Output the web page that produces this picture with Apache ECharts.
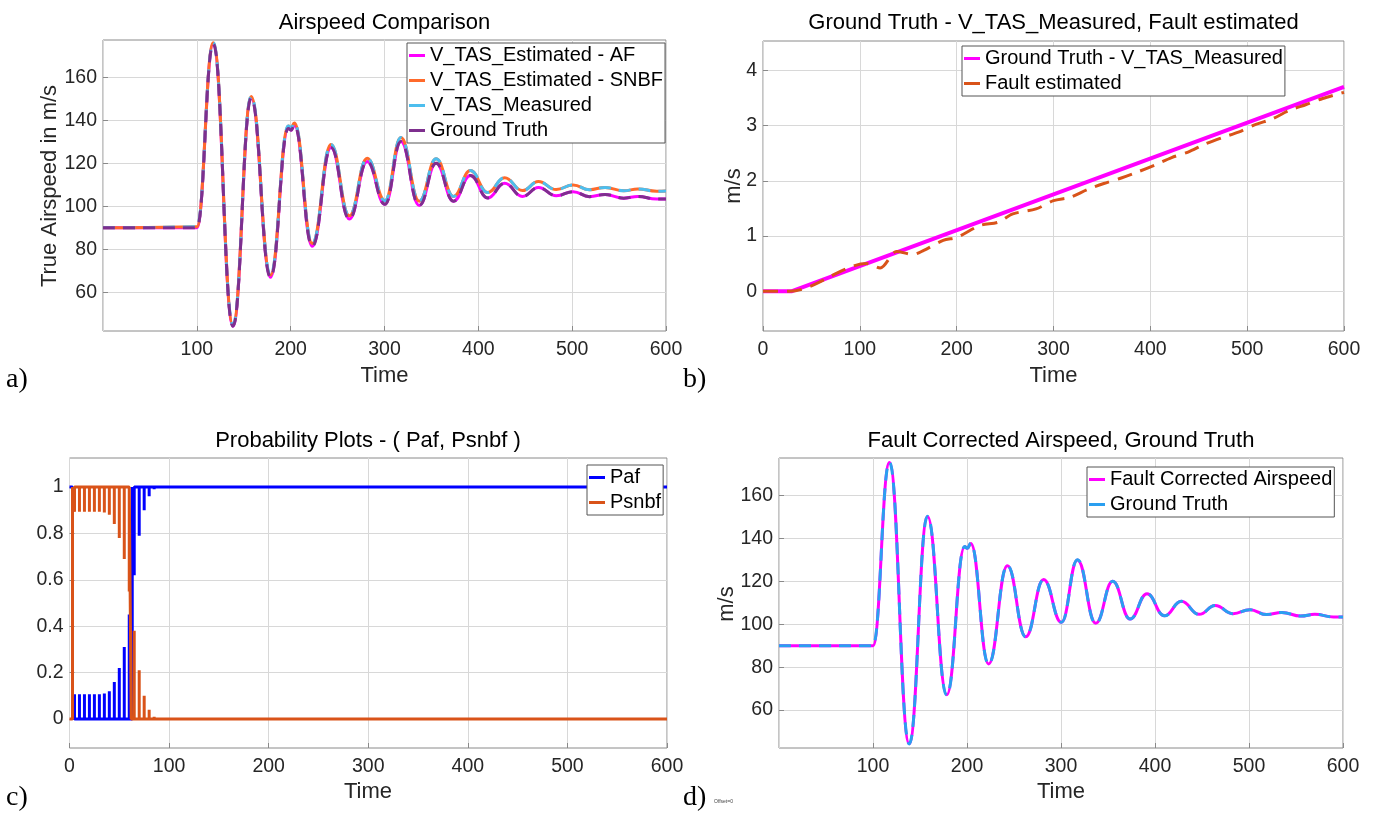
<!DOCTYPE html>
<html><head><meta charset="utf-8">
<script src="https://cdn.jsdelivr.net/npm/echarts@6/dist/echarts.min.js"></script>
<style>html,body{margin:0;padding:0;background:#fff}#c{width:1377px;height:813px}</style>
</head><body><div id="c"></div>
<script>
// ================= DATA =================
// Panel a / d : ground truth airspeed (extremes of the oscillation)
const gtTime  = [0, 50, 100, 117.5, 138.5, 158, 178.5, 197.5, 200.5, 204, 223, 243, 262.5, 281.5, 300.5, 317.5, 337, 355, 373.5, 391.5, 410, 428, 447, 464, 483, 501, 518.5, 535, 555, 570, 590, 600];
const gtValue = [90, 90, 90, 175.5, 44.2, 150.3, 67, 136.2, 135.4, 137.7, 81.4, 127.4, 94.1, 120.8, 100.9, 130.1, 100.4, 120, 102.4, 114.3, 103.9, 110.7, 104.6, 108.7, 104.9, 106.8, 104.5, 105.5, 103.8, 104.6, 103.4, 103.4];
const afValue = [90, 90, 90, 175.5, 44.2, 150.3, 67, 136.2, 135.4, 137.7, 81.4, 127.4, 94.1, 120.8, 100.9, 130.1, 100.4, 120, 102.4, 114.3, 103.9, 110.7, 104.6, 108.7, 104.9, 106.8, 104.5, 105.5, 103.8, 104.6, 103.4, 103.4];
// measured airspeed (ground truth + drifting fault) and SNBF estimate
const measTime  = [0, 30, 100, 117.5, 138.5, 158, 178.5, 197.5, 200.5, 204, 223, 243, 262.5, 281.5, 300.5, 317.5, 337, 355, 373.5, 391.5, 410, 428, 447, 464, 483, 501, 518.5, 535, 555, 570, 590, 600];
const measValue = [90, 90, 90.45, 176.1, 44.9, 151.1, 68.0, 137.3, 136.5, 138.8, 82.7, 128.8, 95.6, 122.4, 102.6, 132.0, 102.4, 122.1, 104.6, 116.6, 106.4, 113.3, 107.3, 111.5, 107.8, 109.9, 107.7, 108.8, 107.2, 108.1, 107.0, 107.1];
const snbfValue = [90, 90, 90.45, 176.1, 44.9, 151.1, 68.0, 137.3, 136.5, 138.8, 82.7, 128.8, 95.6, 122.4, 102.6, 132.0, 102.4, 122.1, 104.6, 116.6, 106.4, 113.3, 107.3, 111.5, 107.8, 109.9, 107.7, 108.8, 107.2, 108.1, 107.0, 107.1];
// Panel d : fault corrected airspeed
const corrValue = [90, 90, 90, 175.4, 44.3, 150.2, 67.1, 136.1, 135.4, 137.6, 81.5, 127.3, 94.2, 120.8, 100.9, 130.0, 100.5, 120, 102.4, 114.2, 103.9, 110.7, 104.6, 108.7, 104.9, 106.8, 104.5, 105.5, 103.8, 104.6, 103.4, 103.4];

// Panel b : fault
const faultTrueTime  = [0, 30, 600];
const faultTrueValue = [0, 0, 3.7];
const faultEstTime  = [0, 28, 107, 121, 138, 155, 166, 186, 201, 224, 243, 258, 282, 300, 317, 335, 352, 370, 387, 404, 422, 439, 456, 474, 491, 509, 526, 543, 561, 578, 600];
const faultEstValue = [0, 0, 0.50, 0.42, 0.72, 0.665, 0.74, 0.92, 0.98, 1.19, 1.25, 1.40, 1.49, 1.64, 1.70, 1.84, 1.95, 2.05, 2.16, 2.28, 2.42, 2.52, 2.66, 2.78, 2.88, 3.02, 3.12, 3.27, 3.38, 3.49, 3.60];

// Panel c : model probabilities
const pafSwitch   = [3, 63];     // Paf: 1 -> 0 at first, 0 -> 1 at second
const psnbfSwitch = [3, 62];     // Psnbf: 0 -> 1 at first, 1 -> 0 at second
const lowSpikeTime  = [5, 10, 15, 20, 25, 30, 35, 40, 45, 50, 55, 60];
const pafLow        = [0.107, 0.107, 0.107, 0.107, 0.107, 0.107, 0.11, 0.12, 0.16, 0.22, 0.31, 0.45];
const psnbfLow      = [0.893, 0.893, 0.893, 0.893, 0.893, 0.893, 0.89, 0.88, 0.84, 0.78, 0.69, 0.55];
const highSpikeTime = [65, 70, 75, 80, 85];
const pafHigh       = [0.62, 0.79, 0.90, 0.96, 0.99];
const psnbfHigh     = [0.38, 0.21, 0.10, 0.04, 0.01];

const xTicks   = [0, 100, 200, 300, 400, 500, 600];
const yTicksAD = [60, 80, 100, 120, 140, 160];
const yTicksB  = [0, 1, 2, 3, 4];
const yTicksC  = [0, 0.2, 0.4, 0.6, 0.8, 1];

// ================= BUILD =================
const zip = (t, v) => t.map((x, i) => [x, v[i]]);
function probSeries(startVal, sw, lowT, lowV, highT, highV) {
  const other = 1 - startVal;
  const d = [[0, startVal], [sw[0], startVal], [sw[0], other]];
  lowT.forEach((t, i) => { d.push([t, other], [t, lowV[i]], [t, other]); });
  d.push([sw[1], other], [sw[1], startVal]);
  highT.forEach((t, i) => { d.push([t, startVal], [t, highV[i]], [t, startVal]); });
  d.push([600, startVal]);
  return d;
}

const FONT = "'Liberation Sans', Arial, Helvetica, sans-serif";
const TXT = '#262626';
const grids = [
  { left: 103, top: 40, width: 563, height: 291 },
  { left: 763, top: 41, width: 581, height: 290 },
  { left: 69.5, top: 458, width: 597.5, height: 290 },
  { left: 779, top: 458, width: 564, height: 290 }
].map(g => Object.assign({ show: true, borderColor: '#8a8a8a', borderWidth: 1, backgroundColor: '#fff' }, g));

function xAxis(i, showZero) {
  return {
    type: 'value', gridIndex: i, min: 0, max: 600, interval: 100,
    axisLine: { show: false, onZero: false },
    axisTick: { show: true, inside: true, length: 5, lineStyle: { color: '#8a8a8a' } },
    axisLabel: { showMinLabel: showZero, showMaxLabel: true, fontSize: 19.5, fontFamily: FONT, color: TXT, margin: 9 },
    splitLine: { show: true, lineStyle: { color: '#d8d8d8', width: 1 } }
  };
}
function yAxis(i, min, max, ticks, fmt) {
  return {
    type: 'value', gridIndex: i, min: min, max: max,
    axisLine: { show: false, onZero: false },
    axisTick: { show: true, inside: true, length: 5, customValues: ticks, lineStyle: { color: '#8a8a8a' } },
    axisLabel: { customValues: ticks, fontSize: 19.5, fontFamily: FONT, color: TXT, margin: 6, formatter: fmt },
    splitLine: { show: true, lineStyle: { color: '#d8d8d8', width: 1 } }
  };
}

function line(name, xi, data, color, width, dash, extra) {
  return Object.assign({
    name: name, type: 'line', xAxisIndex: xi, yAxisIndex: xi, data: data,
    showSymbol: false, symbol: 'none', animation: false, silent: true,
    lineStyle: { color: color, width: width, type: dash || 'solid', cap: 'butt', join: 'bevel' },
    itemStyle: { color: color }
  }, extra || {});
}
const SM = { smooth: 0.45, smoothMonotone: 'x' };

function legend(names, left, top) {
  return {
    data: names, left: left, top: top, orient: 'vertical', selectedMode: false,
    icon: 'rect', itemWidth: 16, itemHeight: 3, itemGap: 0,
    padding: [0, 2, 0, 2], backgroundColor: '#fff', borderColor: '#555', borderWidth: 1, borderRadius: 0,
    textStyle: { fontSize: 20, fontFamily: FONT, color: '#000', lineHeight: 25, padding: [0, 0, 0, 0] }
  };
}

function txt(x, y, text, size, opts) {
  return Object.assign({
    type: 'text', x: x, y: y, silent: true,
    style: { text: text, fontSize: size, fontFamily: FONT, fill: '#000', align: 'center', verticalAlign: 'middle' }
  }, opts || {});
}

const option = {
  backgroundColor: '#fff',
  animation: false,
  grid: grids,
  xAxis: [xAxis(0, false), xAxis(1, true), xAxis(2, true), xAxis(3, false)],
  yAxis: [
    yAxis(0, 42.0, 177.35, yTicksAD),
    yAxis(1, -0.72, 4.53, yTicksB),
    yAxis(2, -0.125, 1.125, yTicksC, v => (v === 0 || v === 1) ? String(v) : v.toFixed(1)),
    yAxis(3, 42.3, 177.5, yTicksAD)
  ],
  legend: [
    legend(['V_TAS_Estimated - AF', 'V_TAS_Estimated - SNBF', 'V_TAS_Measured', 'Ground Truth'], 407, 43),
    legend(['Ground Truth - V_TAS_Measured', 'Fault estimated'], 962, 46),
    legend(['Paf', 'Psnbf'], 587, 465),
    legend(['Fault Corrected Airspeed', 'Ground Truth '], 1087, 467)
  ],
  series: [
    line('V_TAS_Estimated - AF', 0, zip(gtTime, afValue), '#ff00ff', 3, null, SM),
    line('V_TAS_Estimated - SNBF', 0, zip(measTime, snbfValue), '#ff6a2b', 3, null, SM),
    line('V_TAS_Measured', 0, zip(measTime, measValue), '#4dbeee', 3, [12, 8], SM),
    line('Ground Truth', 0, zip(gtTime, gtValue), '#7e2f8e', 3, [12, 8], SM),

    line('Ground Truth - V_TAS_Measured', 1, zip(faultTrueTime, faultTrueValue), '#ff00ff', 4),
    line('Fault estimated', 1, zip(faultEstTime, faultEstValue), '#d95319', 3, [15, 9], { smooth: 0.3 }),

    line('Paf', 2, probSeries(1, pafSwitch, lowSpikeTime, pafLow, highSpikeTime, pafHigh), '#0000ff', 3),
    line('Psnbf', 2, probSeries(0, psnbfSwitch, lowSpikeTime, psnbfLow, highSpikeTime, psnbfHigh), '#d95319', 3),

    line('Fault Corrected Airspeed', 3, zip(gtTime, corrValue), '#ff00ff', 3, null, SM),
    line('Ground Truth ', 3, zip(gtTime, gtValue), '#2a9ff0', 3, [12, 8], SM)
  ],
  graphic: [
    txt(384.5, 23, 'Airspeed Comparison', 22),
    txt(1053.5, 23, 'Ground Truth - V_TAS_Measured, Fault estimated', 22),
    txt(368, 441, 'Probability Plots - ( Paf, Psnbf )', 22),
    txt(1061, 441, 'Fault Corrected Airspeed, Ground Truth', 22),
    txt(384.5, 376, 'Time', 22, {}),
    txt(1053.5, 376, 'Time', 22),
    txt(368, 792, 'Time', 22),
    txt(1061, 792, 'Time', 22),
    txt(50, 186, 'True Airspeed in m/s', 22, { rotation: Math.PI / 2 }),
    txt(734, 186, 'm/s', 22, { rotation: Math.PI / 2 }),
    txt(727, 604, 'm/s', 22, { rotation: Math.PI / 2 }),
    { type: 'text', x: 6, y: 380, silent: true, style: { text: 'a)', fontSize: 28, fontFamily: "'Liberation Serif', 'Times New Roman', serif", fill: '#000', align: 'left', verticalAlign: 'middle' } },
    { type: 'text', x: 683, y: 380, silent: true, style: { text: 'b)', fontSize: 28, fontFamily: "'Liberation Serif', 'Times New Roman', serif", fill: '#000', align: 'left', verticalAlign: 'middle' } },
    { type: 'text', x: 6, y: 798, silent: true, style: { text: 'c)', fontSize: 28, fontFamily: "'Liberation Serif', 'Times New Roman', serif", fill: '#000', align: 'left', verticalAlign: 'middle' } },
    { type: 'text', x: 683, y: 798, silent: true, style: { text: 'd)', fontSize: 28, fontFamily: "'Liberation Serif', 'Times New Roman', serif", fill: '#000', align: 'left', verticalAlign: 'middle' } },
    { type: 'text', x: 714, y: 802, silent: true, style: { text: 'Offset=0', fontSize: 5, fontFamily: FONT, fill: '#444', align: 'left', verticalAlign: 'middle' } }
  ]
};
// axis names use the dark-grey axis text colour
option.graphic.slice(4, 11).forEach(g => { g.style.fill = TXT; });

const chart = echarts.init(document.getElementById('c'), null, { renderer: 'canvas' });
chart.setOption(option);
</script></body></html>
